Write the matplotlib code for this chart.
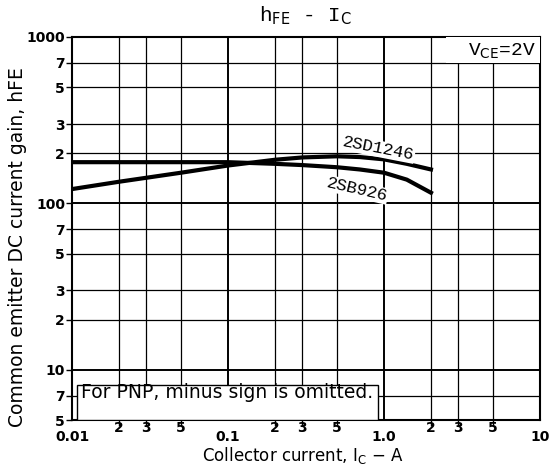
from matplotlib import pyplot as plt
from matplotlib.ticker import FixedLocator
from matplotlib.patches import Rectangle

# collector current (A) and hFE
ic_d = [0.01, 0.02, 0.05, 0.1, 0.2, 0.3, 0.5, 0.7, 1.0, 1.4, 2.0]
hfe_d = [122, 135, 153, 169, 183, 189, 192, 190, 184, 173, 160]   # 2SD1246
ic_b = [0.01, 0.02, 0.05, 0.1, 0.2, 0.3, 0.5, 0.7, 1.0, 1.4, 2.0]
hfe_b = [177, 177, 177, 177, 173, 170, 165, 160, 153, 139, 116]   # 2SB926

x_major = [0.01, 0.1, 1.0, 10]
x_major_lbl = ['0.01', '0.1', '1.0', '10']
x_minor = [0.02, 0.03, 0.05, 0.2, 0.3, 0.5, 2, 3, 5]
x_minor_lbl = ['2', '3', '5'] * 3
y_major = [10, 100, 1000]
y_major_lbl = ['10', '100', '1000']
y_minor = [5, 7, 20, 30, 50, 70, 200, 300, 500, 700]
y_minor_lbl = ['5', '7', '2', '3', '5', '7', '2', '3', '5', '7']

mono = ['Liberation Mono', 'DejaVu Sans Mono']

fig = plt.figure(figsize=(5.49, 4.70), dpi=100)
ax = fig.add_axes([72 / 549, 50 / 470, 468 / 549, 383 / 470])
ax.set_xscale('log')
ax.set_yscale('log')
ax.set_xlim(0.01, 10)
ax.set_ylim(5, 1000)

ax.xaxis.set_major_locator(FixedLocator(x_major))
ax.xaxis.set_minor_locator(FixedLocator(x_minor))
ax.set_xticklabels(x_major_lbl)
ax.set_xticklabels(x_minor_lbl, minor=True)
ax.yaxis.set_major_locator(FixedLocator(y_major))
ax.yaxis.set_minor_locator(FixedLocator(y_minor))
ax.set_yticklabels(y_major_lbl)
ax.set_yticklabels(y_minor_lbl, minor=True)

ax.tick_params(which='major', axis='x', length=0, pad=7, labelsize=10)
ax.tick_params(which='minor', axis='x', length=4, width=1, pad=-3, labelsize=10)
ax.tick_params(which='both', axis='y', length=4, width=1, pad=1, labelsize=10)
for lbl in ax.get_xticklabels(which='both') + ax.get_yticklabels(which='both'):
    lbl.set_fontweight('bold')

ax.grid(which='major', color='black', lw=1.4)
ax.grid(which='minor', color='black', lw=0.9)
ax.set_axisbelow(True)
for s in ax.spines.values():
    s.set_linewidth(1.5)

ax.plot(ic_d, hfe_d, color='black', lw=3, zorder=4)
ax.plot(ic_b, hfe_b, color='black', lw=3, zorder=4)

ax.text(0.92, 213, '2SD1246', family=mono, fontsize=12.5, rotation=-11,
        ha='center', va='center', zorder=5,
        bbox=dict(facecolor='white', edgecolor='none', pad=0.5))
ax.text(0.67, 121, '2SB926', family=mono, fontsize=12.5, rotation=-13,
        ha='center', va='center', zorder=5,
        bbox=dict(facecolor='white', edgecolor='none', pad=0.5))

# V_CE note, top right
ax.add_patch(Rectangle((0.80, 0.932), 0.20, 0.068, transform=ax.transAxes,
                       facecolor='white', edgecolor='none', zorder=3))
ax.text(0.99, 0.962, r'V$_{\mathrm{CE}}$=2V', transform=ax.transAxes,
        family=mono, fontsize=14, ha='right', va='center', zorder=5)

# PNP note box
ax.add_patch(Rectangle((0.011, 0.0), 0.643, 0.091, transform=ax.transAxes,
                       facecolor='white', edgecolor='black', lw=1, zorder=3))
ax.text(0.020, 0.072, 'For PNP, minus sign is omitted.', transform=ax.transAxes,
        fontsize=13.5, ha='left', va='center', zorder=5)

fig.text(305 / 549, 1 - 16 / 470, r'h$_{\mathrm{FE}}$ - I$_{\mathrm{C}}$', family=mono,
         fontsize=15, ha='center', va='center')
fig.text(303 / 549, 1 - 455 / 470, r'Collector current, I$_{\mathrm{C}}$ $-$ A',
         fontsize=12, ha='center', va='center')
fig.text(18 / 549, 1 - 247 / 470, 'Common emitter DC current gain, hFE',
         fontsize=13.5, rotation=90, ha='center', va='center')

fig.savefig('out.png', dpi=100)
